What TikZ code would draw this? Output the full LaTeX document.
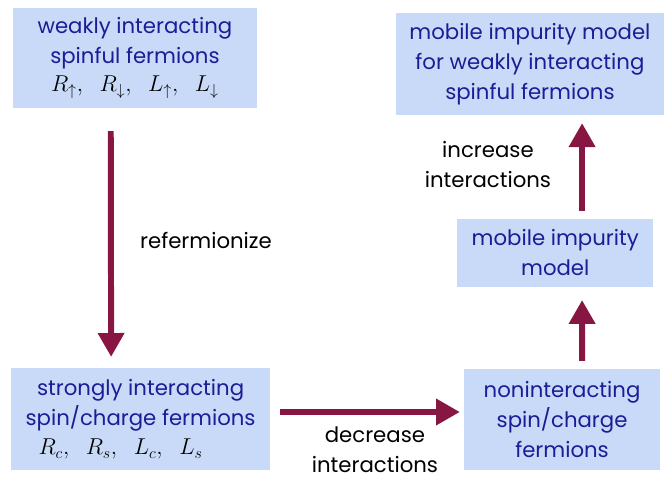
\documentclass[tikz,border=0pt]{standalone}
\usepackage{fontspec}
\setmainfont{Poppins}
\usetikzlibrary{arrows.meta}
\definecolor{boxblue}{RGB}{201,218,248}
\definecolor{textblue}{RGB}{28,28,150}
\definecolor{arrowred}{RGB}{136,22,66}
\newcommand{\fieldrow}[1]{{\color{black}\fontsize{17}{20}\selectfont$#1$}}
\tikzset{
  stage/.style={fill=boxblue, text=textblue, align=center, inner sep=0pt,
    font=\fontsize{16}{22.5}\selectfont},
  flow/.style={draw=arrowred, line width=4.5pt,
    -{Triangle[length=18pt,width=19pt]}},
  step label/.style={align=center, font=\fontsize{16}{22.5}\selectfont}
}
\begin{document}
\begin{tikzpicture}
    \useasboundingbox (0,0) rectangle (17.62,12.7);
    % boxes
    \node[stage, minimum width=6.46cm, minimum height=2.65cm] (weak) at (3.57,11.17)
        {weakly interacting\\spinful fermions\\[-1pt]
         \fieldrow{R_\uparrow,\;\; R_\downarrow,\;\; L_\uparrow,\;\; L_\downarrow}};
    \node[stage, minimum width=7.09cm, minimum height=2.70cm] (target) at (14.02,11.01)
        {mobile impurity model\\for weakly interacting\\spinful fermions};
    \node[stage, minimum width=6.85cm, minimum height=2.70cm] (strong) at (3.72,1.61)
        {strongly interacting\\spin/charge fermions\\[0pt]
         \fieldrow{R_c,\;\; R_s,\;\; L_c,\;\; L_s}\hspace*{1.06cm}};
    \node[stage, minimum width=5.19cm, minimum height=1.80cm] (impurity) at (14.69,6.01)
        {mobile impurity\\model};
    \node[stage, minimum width=5.19cm, minimum height=2.67cm] (free) at (14.87,1.60)
        {noninteracting\\spin/charge\\fermions};
    % arrows
    \draw[flow] ([shift={(-0.64,-0.61)}]weak.south) -- ([shift={(-0.78,0.29)}]strong.north);
    \draw[flow] ([shift={(0.26,0.19)}]strong.east) -- ([shift={(-0.10,0.20)}]free.west);
    \draw[flow] ([shift={(0.53,0.21)}]free.north) -- ([shift={(0.71,-0.34)}]impurity.south);
    \draw[flow] ([shift={(0.71,0.21)}]impurity.north) -- ([shift={(1.38,-0.21)}]target.south);
    % labels
    \node[step label] (refermion) at (5.45,6.35) {refermionize};
    \node[step label] (increase) at (12.91,8.34) {increase\\interactions};
    \node[step label] (decrease) at (9.92,0.80) {decrease\\interactions};
\end{tikzpicture}
\end{document}
